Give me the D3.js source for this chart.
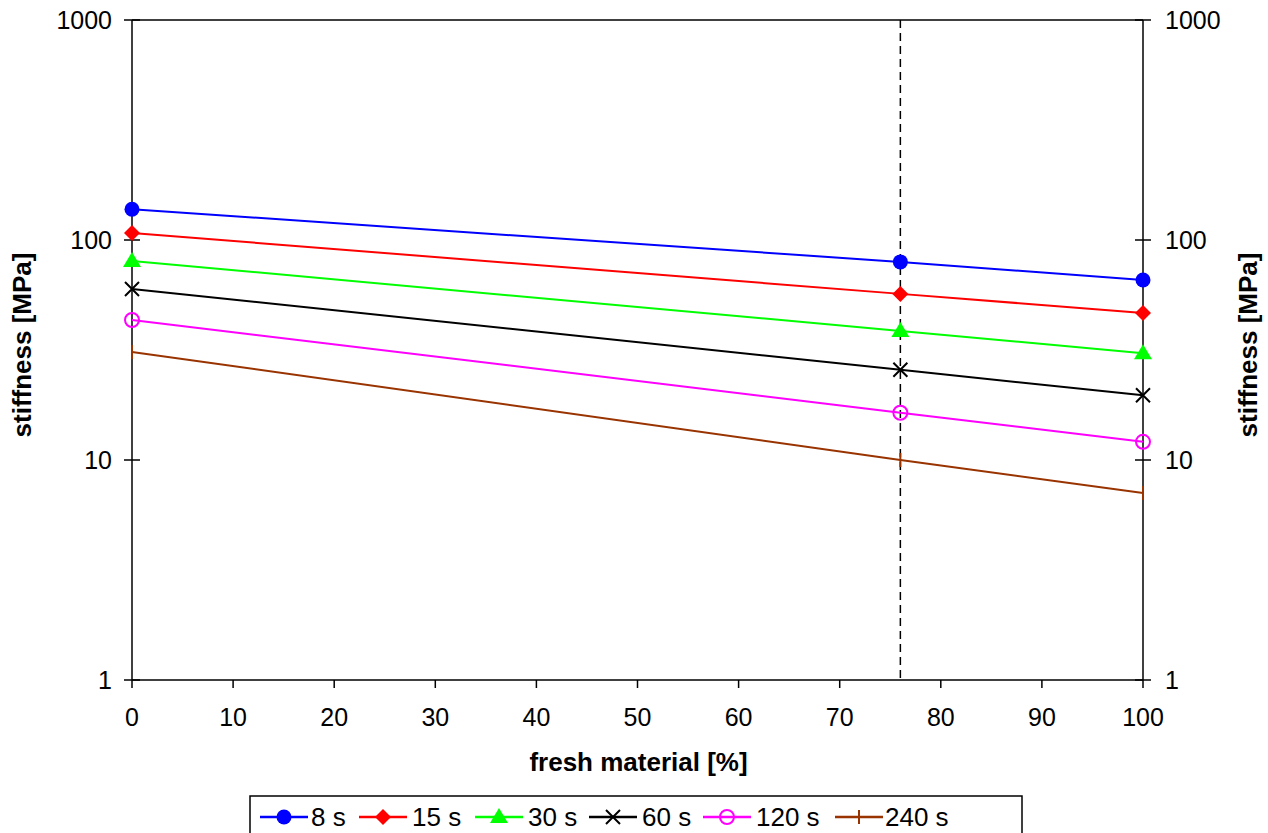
<!DOCTYPE html>
<html><head><meta charset="utf-8">
<script src="https://cdn.jsdelivr.net/npm/d3@7"></script>
<style>body{margin:0;background:#fff}svg{display:block}</style>
</head><body>
<svg id="c" width="1268" height="833"></svg>
<script>
const xValues = [0, 76, 100];
const seriesNames = ["8 s", "15 s", "30 s", "60 s", "120 s", "240 s"];
const s8 = [138, 79.5, 65.8];
const s15 = [107.6, 56.9, 46.6];
const s30 = [80.3, 38.6, 30.6];
const s60 = [59.9, 25.7, 19.7];
const s120 = [43.3, 16.4, 12.1];
const s240 = [31.0, 10.0, 7.08];
const xTicks = [0,10,20,30,40,50,60,70,80,90,100];
const yTicks = [1,10,100,1000];
const dashedX = 76;
const colors = ["#0000ff","#ff0000","#00ff00","#000000","#ff00ff","#993300"];
const markers = ["circle","diamond","triangle","x","ocircle","plus"];
const allSeries = [s8,s15,s30,s60,s120,s240];

const svg = d3.select("#c");
const L=132, R=1143, T=20, B=680;
const x = d3.scaleLinear().domain([0,100]).range([L,R]);
const y = d3.scaleLog().domain([1,1000]).range([B,T]);
const font = "'Liberation Sans', Arial, sans-serif";

// axes lines
svg.append("line").attr("x1",L).attr("x2",R).attr("y1",T).attr("y2",T).attr("stroke","#000").attr("stroke-width",1.5);
svg.append("line").attr("x1",L).attr("x2",R).attr("y1",B).attr("y2",B).attr("stroke","#000").attr("stroke-width",1.5);
svg.append("line").attr("x1",L).attr("x2",L).attr("y1",T).attr("y2",B).attr("stroke","#000").attr("stroke-width",1.5);
svg.append("line").attr("x1",R).attr("x2",R).attr("y1",T).attr("y2",B).attr("stroke","#000").attr("stroke-width",1.5);

// y ticks crossing axes
yTicks.forEach(v=>{
  [L,R].forEach(px=>{
    svg.append("line").attr("x1",px-8).attr("x2",px+8).attr("y1",y(v)).attr("y2",y(v)).attr("stroke","#000").attr("stroke-width",1.5);
  });
  svg.append("text").attr("x",L-20).attr("y",y(v)).attr("dy","0.35em").attr("text-anchor","end")
    .attr("font-family",font).attr("font-size",25).text(v);
  svg.append("text").attr("x",R+22).attr("y",y(v)).attr("dy","0.35em").attr("text-anchor","start")
    .attr("font-family",font).attr("font-size",25).text(v);
});
// x ticks
xTicks.forEach(v=>{
  svg.append("line").attr("x1",x(v)).attr("x2",x(v)).attr("y1",B).attr("y2",B+8).attr("stroke","#000").attr("stroke-width",1.5);
  svg.append("text").attr("x",x(v)).attr("y",726).attr("text-anchor","middle")
    .attr("font-family",font).attr("font-size",25).text(v);
});
// titles
svg.append("text").attr("x",(L+R)/2+1).attr("y",771).attr("text-anchor","middle")
  .attr("font-family",font).attr("font-size",26).attr("font-weight","bold").text("fresh material [%]");
svg.append("text").attr("transform","translate(31,345) rotate(-90)").attr("text-anchor","middle")
  .attr("font-family",font).attr("font-size",26).attr("font-weight","bold").text("stiffness [MPa]");
svg.append("text").attr("transform","translate(1257,345) rotate(-90)").attr("text-anchor","middle")
  .attr("font-family",font).attr("font-size",26).attr("font-weight","bold").text("stiffness [MPa]");

// dashed line
svg.append("line").attr("x1",x(dashedX)).attr("x2",x(dashedX)).attr("y1",T).attr("y2",B)
  .attr("stroke","#000").attr("stroke-width",1.5).attr("stroke-dasharray","8,5");

function drawMarker(g, type, cx, cy, color, s){
  s = s||1;
  if(type==="circle") g.append("circle").attr("cx",cx).attr("cy",cy).attr("r",7.5*s).attr("fill",color);
  else if(type==="diamond") g.append("path").attr("d",`M${cx},${cy-8*s}L${cx+8*s},${cy}L${cx},${cy+8*s}L${cx-8*s},${cy}Z`).attr("fill",color);
  else if(type==="triangle") g.append("path").attr("d",`M${cx},${cy-9*s}L${cx+9*s},${cy+6*s}L${cx-9*s},${cy+6*s}Z`).attr("fill",color);
  else if(type==="x") g.append("path").attr("d",`M${cx-7*s},${cy-7*s}L${cx+7*s},${cy+7*s}M${cx+7*s},${cy-7*s}L${cx-7*s},${cy+7*s}`).attr("stroke",color).attr("stroke-width",2).attr("fill","none");
  else if(type==="ocircle") g.append("circle").attr("cx",cx).attr("cy",cy).attr("r",7*s).attr("fill","none").attr("stroke",color).attr("stroke-width",2);
  else if(type==="plus") g.append("path").attr("d",`M${cx},${cy-7*s}L${cx},${cy+7*s}`).attr("stroke",color).attr("stroke-width",2).attr("fill","none");
}

const line = d3.line().x(d=>x(d[0])).y(d=>y(d[1]));
allSeries.forEach((s,i)=>{
  const pts = xValues.map((xv,j)=>[xv,s[j]]);
  svg.append("path").attr("d",line(pts)).attr("fill","none").attr("stroke",colors[i]).attr("stroke-width",2);
  const g = svg.append("g");
  pts.forEach(p=>drawMarker(g,markers[i],x(p[0]),y(p[1]),colors[i]));
});

// legend
const lg = svg.append("g");
lg.append("rect").attr("x",250).attr("y",796).attr("width",772).attr("height",50).attr("fill","#fff").attr("stroke","#000").attr("stroke-width",1.5);
const legLine = [260, 359, 475, 589, 703, 835];
const legText = [311, 412, 528, 642, 756, 885];
seriesNames.forEach((n,i)=>{
  const lx = legLine[i], ly = 817;
  lg.append("line").attr("x1",lx).attr("x2",lx+48).attr("y1",ly).attr("y2",ly).attr("stroke",colors[i]).attr("stroke-width",2.5);
  drawMarker(lg, markers[i], lx+24, ly, colors[i], 1);
  lg.append("text").attr("x",legText[i]).attr("y",ly).attr("dy","0.36em").attr("font-family",font).attr("font-size",26).text(n);
});
</script>
</body></html>
